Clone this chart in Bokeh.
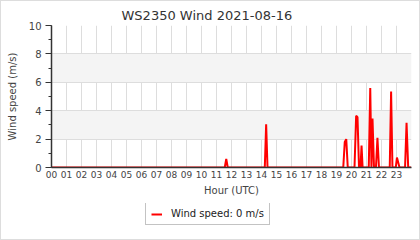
from bokeh.plotting import figure
from bokeh.models import (ColumnDataSource, FixedTicker, SingleIntervalTicker, Legend,
                          LegendItem, Range1d, Title)
from bokeh.layouts import column
from bokeh.embed import file_html
from bokeh.resources import INLINE

# ---- data (hours UTC, wind speed m/s) ----
hours = [0.0, 11.55, 11.65, 11.75, 14.22, 14.31, 14.40,
         19.45, 19.55, 19.65, 19.75,
         20.20, 20.31, 20.40, 20.50, 20.60, 20.67, 20.74,
         21.15, 21.25, 21.33, 21.40, 21.50, 21.63, 21.73, 21.83,
         22.55, 22.64, 22.73, 22.95, 23.03, 23.20,
         23.57, 23.67, 23.78, 23.98]
speed = [0.0, 0.0, 0.6, 0.0, 0.0, 3.05, 0.0,
         0.0, 1.8, 2.0, 0.0,
         0.0, 3.65, 3.55, 0.0, 0.0, 1.55, 0.0,
         0.0, 5.6, 0.0, 3.45, 0.0, 0.0, 2.1, 0.0,
         0.0, 5.35, 0.0, 0.0, 0.7, 0.0,
         0.0, 3.15, 0.0, 0.0]
hour_ticks = list(range(24))
hour_labels = ["%02d" % h for h in hour_ticks]
title_text = "WS2350 Wind 2021-08-16"
legend_text = "Wind speed: 0 m/s"

FONT = "DejaVu Sans"
TXT = "#444444"
LINE_COLOR = "#ff0000"

p = figure(width=418, height=202, output_backend="svg", toolbar_location=None,
           x_range=Range1d(0, 24), y_range=Range1d(0, 10),
           min_border_left=50, min_border_right=8, min_border_top=24,
           min_border_bottom=36)
p.outline_line_color = None
p.background_fill_color = "white"
p.border_fill_color = "white"

t = Title(text=title_text, align="left", offset=70, text_font=FONT,
          text_font_size="13px", text_font_style="normal", text_color="#333333",
          standoff=6)
p.add_layout(t, "above")

src = ColumnDataSource(dict(x=hours, y=speed))
r = p.line("x", "y", source=src, line_color=LINE_COLOR, line_width=2)

# x axis
xa = p.xaxis[0]
xa.ticker = FixedTicker(ticks=hour_ticks)
xa.major_label_overrides = {h: l for h, l in zip(hour_ticks, hour_labels)}
xa.major_tick_out = 0
xa.major_tick_in = 0
xa.minor_tick_out = 0
xa.minor_tick_in = 0
xa.axis_line_color = "#333333"
xa.axis_line_width = 1.5
xa.major_label_standoff = 3
xa.major_label_text_font = FONT
xa.major_label_text_font_size = "9px"
xa.major_label_text_color = TXT
xa.axis_label = "Hour (UTC)"
xa.axis_label_text_font = FONT
xa.axis_label_text_font_size = "10px"
xa.axis_label_text_font_style = "normal"
xa.axis_label_text_color = TXT
xa.axis_label_standoff = 4

# y axis
ya = p.yaxis[0]
ya.ticker = SingleIntervalTicker(interval=2, num_minor_ticks=2)
ya.major_tick_out = 6
ya.major_tick_in = 0
ya.minor_tick_out = 3
ya.minor_tick_in = 0
ya.axis_line_color = "#333333"
ya.axis_line_width = 1.5
ya.major_tick_line_color = "#333333"
ya.minor_tick_line_color = "#333333"
ya.major_label_standoff = 4
ya.major_label_text_font = FONT
ya.major_label_text_font_size = "10px"
ya.major_label_text_color = TXT
ya.axis_label = "Wind speed (m/s)"
ya.axis_label_text_font = FONT
ya.axis_label_text_font_size = "10px"
ya.axis_label_text_font_style = "normal"
ya.axis_label_text_color = TXT
ya.axis_label_standoff = 8

# grids
p.xgrid.grid_line_color = "#dddddd"
p.xgrid.ticker = FixedTicker(ticks=hour_ticks)
p.ygrid.grid_line_color = "#dddddd"
p.ygrid.band_fill_color = "#f4f4f4"
p.ygrid.band_fill_alpha = 1.0

# legend strip below the chart (same frame margins as the chart)
pl = figure(width=418, height=36, output_backend="svg", toolbar_location=None,
            x_range=Range1d(0, 1), y_range=Range1d(0, 1),
            x_axis_type=None, y_axis_type=None,
            min_border_left=50, min_border_right=8, min_border_top=0,
            min_border_bottom=0)
pl.outline_line_color = None
pl.grid.visible = False
pl.background_fill_color = "white"
pl.border_fill_color = "white"
# swatch-only renderer, kept outside the visible range
rl = pl.line(x=[-5, -4], y=[-5, -4], line_color=LINE_COLOR, line_width=2)
legend = Legend(items=[LegendItem(label=legend_text, renderers=[rl])],
                location=(94, 14), orientation="horizontal",
                label_text_font=FONT, label_text_font_size="10px",
                label_text_color="#222222",
                border_line_color="#888888", border_line_width=1,
                background_fill_color="white", background_fill_alpha=1.0,
                padding=5, margin=0, glyph_width=11, glyph_height=10,
                label_height=10, label_standoff=9, spacing=0)
pl.add_layout(legend, "center")

layout = column(p, pl, spacing=0, styles={"border": "1px solid #dddddd"})

open("out.html", "w").write(file_html(layout, INLINE))
